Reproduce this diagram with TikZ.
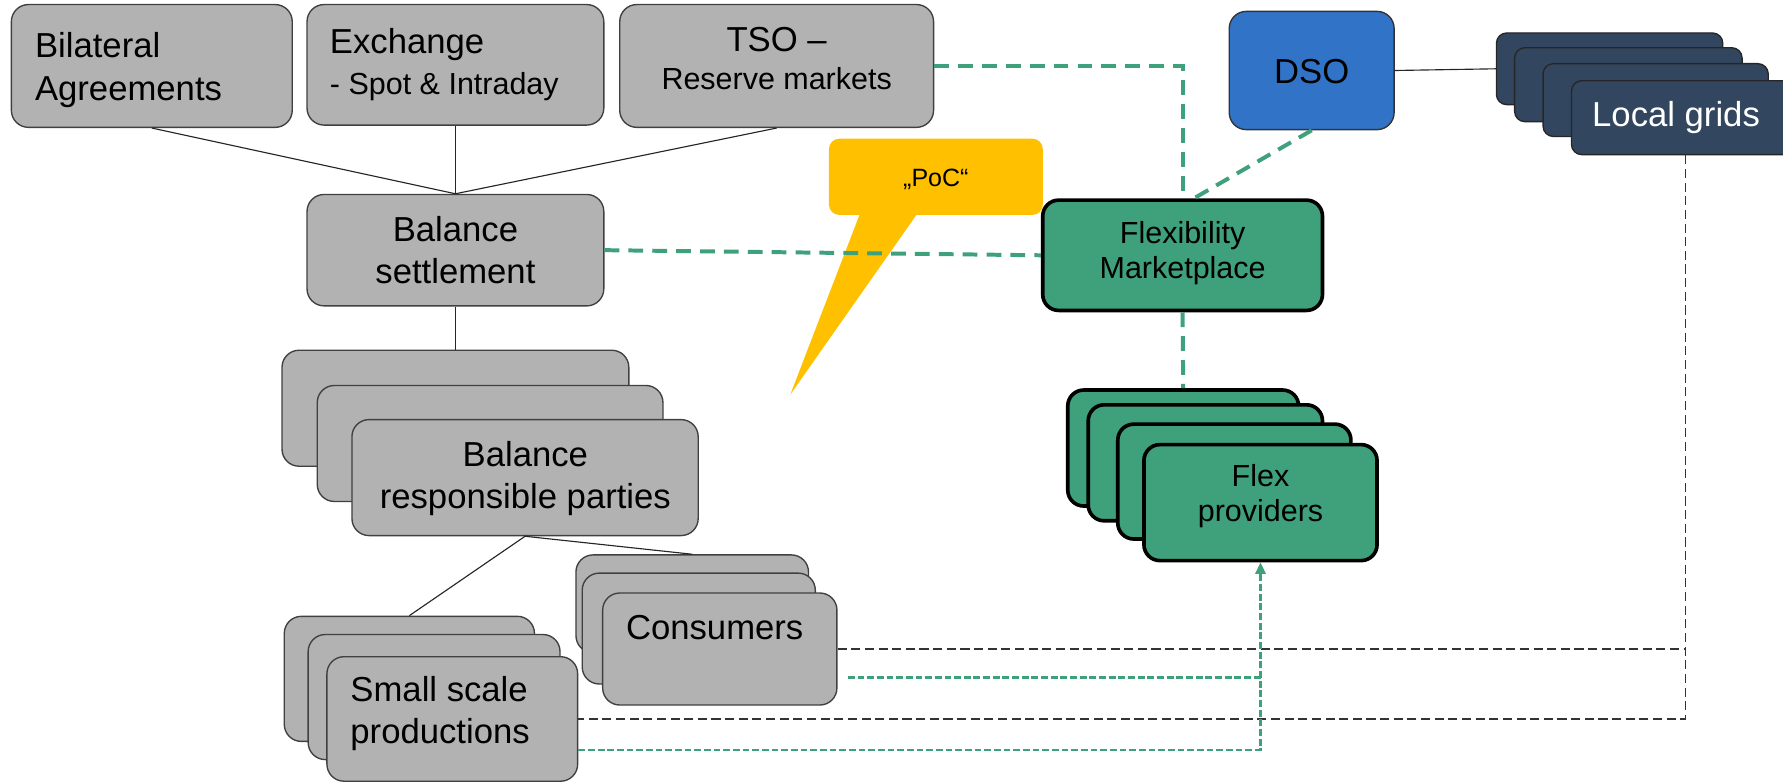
\documentclass[tikz,border=0pt]{standalone}
\usepackage{fontspec}
\setmainfont{Liberation Sans}
\usetikzlibrary{calc,arrows.meta}

\definecolor{boxgray}{RGB}{178,178,178}
\definecolor{flexgreen}{RGB}{63,160,124}
\definecolor{dsoblue}{RGB}{49,115,198}
\definecolor{gridnavy}{RGB}{50,71,95}
\definecolor{pocyellow}{RGB}{255,192,0}

\newcommand{\bigtext}{\fontsize{30.5}{37}\selectfont}
\newcommand{\midtext}{\fontsize{26.8}{31}\selectfont}
\newcommand{\smalltext}{\fontsize{22}{26}\selectfont}

% rounded box spanning (x1,y1)-(x2,y2): \mkbox[style]{name}{x1}{y1}{x2}{y2}
\newcommand{\mkbox}[6][]{%
  \node[#1, minimum width={#5-#3}, minimum height={#6-#4}] (#2)
    at ({(#3+#5)/2},{(#4+#6)/2}) {};}

\tikzset{
  graybox/.style={draw=black!75, line width=1.2pt, fill=boxgray,
    rounded corners=15pt, inner sep=0pt},
  flexbox/.style={draw=black, line width=3.2pt, fill=flexgreen,
    rounded corners=14pt, inner sep=0pt},
  dsobox/.style={draw=black!80, line width=1.2pt, fill=dsoblue,
    rounded corners=15pt, inner sep=0pt},
  gridbox/.style={draw=black!85, line width=1.2pt, fill=gridnavy,
    rounded corners=9pt, inner sep=0pt},
  calloutbox/.style={fill=pocyellow, rounded corners=9pt, inner sep=0pt},
  txt/.style={font=\bigtext, inner sep=0pt, text=black},
  txtm/.style={font=\midtext, inner sep=0pt, text=black},
  conn/.style={draw=black!85, line width=1pt},
  gdash/.style={draw=flexgreen, line width=3.5pt, dash pattern=on 13pt off 8pt},
  bdash/.style={draw=black!80, line width=1.2pt, dash pattern=on 8pt off 4pt},
  gfine/.style={draw=flexgreen, line width=2pt, dash pattern=on 6pt off 2.5pt},
}

\begin{document}
\begin{tikzpicture}[x=1pt,y=-1pt]
\useasboundingbox (0,0) rectangle (1568,688);
\clip (0,0) rectangle (1568,688);

% speech bubble
\mkbox[calloutbox]{poc}{729}{122}{917}{189}
\fill[pocyellow] (757,186) -- (695,347) -- (808,186) -- cycle;
\node[font=\smalltext, inner sep=0pt, anchor=base] (poc-t) at (823,164) {„PoC“};

% market boxes
\mkbox[graybox]{bil}{10}{4}{257}{112}
\mkbox[graybox]{exch}{270}{4}{531}{110}
\mkbox[graybox]{tso}{545}{4}{821}{112}
\mkbox[graybox]{bs}{270}{171}{531}{269}

% DSO and local grids
\mkbox[dsobox]{dso}{1081}{10}{1226}{114}
\mkbox[gridbox]{lg4}{1316}{29}{1515}{92}
\mkbox[gridbox]{lg3}{1332}{42}{1532}{107}
\mkbox[gridbox]{lg2}{1357}{56}{1555}{120}
\mkbox[gridbox]{lg1}{1382}{71}{1582}{136}

% flexibility marketplace and providers
\mkbox[flexbox]{fm}{917}{176}{1163}{273}
\mkbox[flexbox]{fp4}{939}{343}{1142}{445}
\mkbox[flexbox]{fp3}{957}{356}{1163}{458}
\mkbox[flexbox]{fp2}{983}{373}{1188}{474}
\mkbox[flexbox]{fp1}{1006}{391}{1211}{493}

% balance responsible parties
\mkbox[graybox]{brp3}{248}{308}{553}{410}
\mkbox[graybox]{brp2}{279}{339}{583}{441}
\mkbox[graybox]{brp1}{309.5}{369}{614}{471}

% small scale productions
\mkbox[graybox]{ssp3}{250}{542}{470}{652}
\mkbox[graybox]{ssp2}{271}{558}{492.5}{668}
\mkbox[graybox]{ssp1}{287.5}{577.5}{508}{687}

% consumers
\mkbox[graybox]{cons3}{506.5}{488}{711}{574}
\mkbox[graybox]{cons2}{512}{504}{717}{601.5}
\mkbox[graybox]{cons1}{530}{521.5}{736}{620}

% labels (base anchor of a multi-line label = baseline of its last line)
\node[txt, anchor=base west, align=left] (bil-t) at (30.6,88) {Bilateral\\Agreements};
\node[txt, anchor=base west] (exch-t1) at (290,47) {Exchange};
\node[txtm, anchor=base west] (exch-t2) at (290,83.5) {- Spot \& Intraday};
\node[txt, anchor=base] (tso-t1) at (683,45.5) {TSO –};
\node[txtm, anchor=base] (tso-t2) at (683,78.5) {Reserve markets};
\node[txt, anchor=base, align=center] (bs-t) at (400.5,249) {Balance\\settlement};
\node[txt, anchor=base] (dso-t) at (1153.5,73) {DSO};
\node[txt, anchor=base west, text=white] (lg-t) at (1400,111) {Local grids};
\node[txtm, anchor=base, align=center] (fm-t) at (1040,245) {Flexibility\\Marketplace};
\node[txt, anchor=base, align=center] (brp-t) at (462,447) {Balance\\responsible parties};
\node[txt, anchor=base west, align=left] (ssp-t) at (308,654) {Small scale\\productions};
\node[txt, anchor=base] (cons-t) at (628.5,562) {Consumers};
\node[txtm, anchor=base, align=center] (fp-t) at (1108.5,459) {Flex\\providers};

% solid hierarchy lines
\draw[conn] (bil.south) -- (bs.north);
\draw[conn] (exch.south) -- (bs.north);
\draw[conn] (tso.south) -- (bs.north);
\draw[conn] (bs.south) -- (brp3.north);
\draw[conn] (brp1.south) -- (ssp3.north);
\draw[conn] (brp1.south) -- (cons3.north);
\draw[conn] (dso.east) -- (lg4.west);

% marketplace links
\draw[gdash] (tso.east) -| (fm.north);
\draw[gdash] (bs.east) -- (fm.west);
\draw[gdash] (dso.south) -- ($(fm.north)+(10,0)$);
\draw[gdash] (fm.south) -- (fp4.north);

% grid connections
\draw[bdash] (lg1.south) |- (ssp1.east);
\draw[bdash] (cons1.east) -- (cons1.east -| lg1.south);

% flexibility offered by end users
\coordinate (consout) at ($(cons1.east)+(9,25)$);
\draw[gfine] (consout) -- (consout -| fp1.south);
\draw[gfine, -{Triangle[length=10pt,width=9pt]}] ($(ssp1.east)+(0,27)$) -| (fp1.south);
\end{tikzpicture}
\end{document}
